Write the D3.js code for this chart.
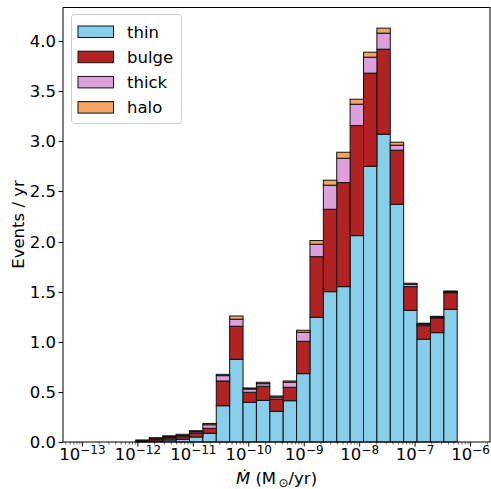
<!DOCTYPE html>
<html><head><meta charset="utf-8">
<script src="https://cdn.jsdelivr.net/npm/d3@7"></script>
<style>body{margin:0;background:#fff}svg{display:block}text{font-family:"DejaVu Sans",sans-serif}</style>
</head><body><svg id="c" width="491" height="489"></svg>
<script>
// histogram bins: 29 log-spaced bins from 1e-13 to 1e-6
const logMin = -13, logMax = -6, nBins = 29;
const thin  = [0,0,0,0,0.004,0.010,0.020,0.027,0.050,0.087,0.362,0.825,0.396,0.416,0.306,0.412,0.682,1.245,1.500,1.550,2.059,2.751,3.071,2.372,1.314,1.025,1.091,1.324,0];
const bulge = [0,0,0,0,0.008,0.020,0.022,0.026,0.040,0.050,0.247,0.330,0.100,0.140,0.123,0.134,0.323,0.604,0.822,1.038,1.098,0.929,0.848,0.539,0.236,0.136,0.147,0.166,0];
const thick = [0,0,0,0,0.004,0.006,0.010,0.012,0.013,0.035,0.053,0.070,0.033,0.026,0.018,0.050,0.090,0.124,0.240,0.243,0.213,0.159,0.160,0.050,0.022,0.014,0.008,0.010,0];
const halo  = [0,0,0,0,0.004,0.007,0.010,0.012,0.010,0.013,0.013,0.032,0.010,0.014,0.012,0.013,0.020,0.037,0.050,0.060,0.050,0.050,0.050,0.030,0.012,0.010,0.008,0.007,0];
const seriesNames = ["thin","bulge","thick","halo"];
const seriesColors = ["#87CEEB","#B22222","#DDA0DD","#F4A460"];
const yTicks = [0,0.5,1.0,1.5,2.0,2.5,3.0,3.5,4.0];
const xTickExps = [-13,-12,-11,-10,-9,-8,-7,-6];

const svg = d3.select("#c");
const L=63, R=490, T=7, B=442;
const x = d3.scaleLog().domain([Math.pow(10,-13.35), Math.pow(10,-5.65)]).range([L,R]);
const y = d3.scaleLinear().domain([0,4.34]).range([B,T]);

const edges = d3.range(nBins+1).map(k => Math.pow(10, logMin + k*(logMax-logMin)/nBins));
const table = edges.slice(0,-1).map((e,i)=>({x0:e,x1:edges[i+1],thin:thin[i],bulge:bulge[i],thick:thick[i],halo:halo[i]}));
const stack = d3.stack().keys(seriesNames)(table);

stack.forEach((layer,si)=>{
  svg.append("g").selectAll("rect").data(layer).join("rect")
    .attr("x", d=>x(d.data.x0))
    .attr("width", d=>x(d.data.x1)-x(d.data.x0))
    .attr("y", d=>y(d[1]))
    .attr("height", d=>y(d[0])-y(d[1]))
    .attr("fill", seriesColors[si])
    .attr("stroke","#111").attr("stroke-width",1);
});

// frame
svg.append("rect").attr("x",L).attr("y",T+0.5).attr("width",R-L).attr("height",B-T-0.5)
  .attr("fill","none").attr("stroke","#000").attr("stroke-width",1);

// y axis
const gy = svg.append("g");
yTicks.forEach(t=>{
  const yy = Math.round(y(t))+0.5;
  gy.append("line").attr("x1",L-4.5).attr("x2",L).attr("y1",yy).attr("y2",yy).attr("stroke","#000");
  gy.append("text").attr("x",L-7).attr("y",yy).attr("dy","0.36em").attr("text-anchor","end")
    .attr("font-size",16.5).text(t.toFixed(1));
});
// x axis major ticks
const gx = svg.append("g");
xTickExps.forEach(e=>{
  const xx = x(Math.pow(10,e));
  gx.append("line").attr("x1",xx).attr("x2",xx).attr("y1",B).attr("y2",B+4.5).attr("stroke","#000");
  const t = gx.append("text").attr("x",xx).attr("y",B+18).attr("text-anchor","middle").attr("font-size",16.5);
  t.append("tspan").text("10");
  t.append("tspan").attr("dy",-6.5).attr("font-size",12).text("\u2212"+Math.abs(e));
});
// minor ticks
for(let e=-14;e<=-6;e++){
  for(let m=2;m<=9;m++){
    const v = m*Math.pow(10,e);
    const xx = x(v);
    if(xx<L||xx>R) continue;
    gx.append("line").attr("x1",xx).attr("x2",xx).attr("y1",B).attr("y2",B+2.5).attr("stroke","#000").attr("stroke-width",0.6);
  }
}

// axis labels
svg.append("text").attr("transform",`translate(18,${(T+B)/2}) rotate(-90)`).attr("text-anchor","middle")
  .attr("dy","0.35em").attr("font-size",16.5).text("Events / yr");
const xl = svg.append("text").attr("x",(L+R)/2).attr("y",484).attr("text-anchor","middle").attr("font-size",16.5);
xl.append("tspan").attr("font-style","italic").text("\u1E40");
xl.append("tspan").text(" (M");
xl.append("tspan").attr("font-size",12).attr("dy",3).text("\u2009\u2299");
xl.append("tspan").attr("dy",-3).text("/yr)");

// legend
const lg = svg.append("g");
lg.append("rect").attr("x",71.5).attr("y",14.5).attr("width",110).attr("height",109).attr("rx",3)
  .attr("fill","#fff").attr("fill-opacity",0.8).attr("stroke","#ccc").attr("stroke-width",1);
seriesNames.forEach((n,i)=>{
  const yy = 26 + i*25.2;
  lg.append("rect").attr("x",78).attr("y",yy).attr("width",35.5).attr("height",11.5)
    .attr("fill",seriesColors[i]).attr("stroke","#111").attr("stroke-width",1);
  lg.append("text").attr("x",127).attr("y",yy+5.8).attr("dy","0.36em").attr("font-size",16.5).text(n);
});
</script></body></html>
